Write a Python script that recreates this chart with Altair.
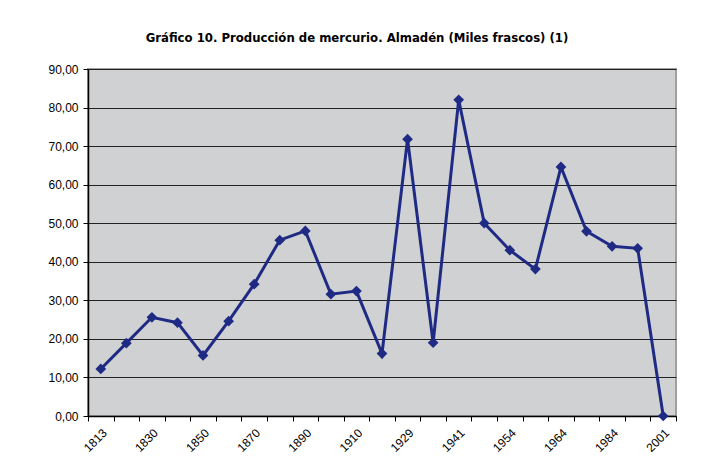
import altair as alt
import pandas as pd

years = ["1813", "1820", "1830", "1840", "1850", "1860", "1870", "1880", "1890",
         "1900", "1910", "1920", "1929", "1935", "1941", "1947", "1954", "1959",
         "1964", "1974", "1984", "1994", "2001"]
shown = ["1813", "1830", "1850", "1870", "1890", "1910", "1929", "1941",
         "1954", "1964", "1984", "2001"]
values = [12.2, 18.9, 25.6, 24.2, 15.7, 24.6, 34.2, 45.6, 48.0, 31.6, 32.4, 16.2,
          71.8, 19.0, 82.0, 50.0, 43.0, 38.1, 64.6, 47.9, 44.0, 43.5, 0.0]
y_ticks = [0, 10, 20, 30, 40, 50, 60, 70, 80, 90]

df = pd.DataFrame({"year": years, "value": values})

shown_arr = "[" + ",".join("'%s'" % s for s in shown) + "]"

x_enc = alt.X(
    "year:O", sort=years, bandPosition=0.5, title=None,
    scale=alt.Scale(type="band", paddingInner=0, paddingOuter=0),
    axis=alt.Axis(
        labelExpr="indexof(" + shown_arr + ", datum.value) >= 0 ? datum.value : ''",
        labelAngle=-45, tickBand="extent", tickSize=5, tickColor="black",
        domainColor="black", domainWidth=1.5, labelFont="Liberation Sans",
        labelFontSize=12, labelColor="black", labelPadding=6, grid=False,
    ),
)
y_enc = alt.Y(
    "value:Q", title=None,
    scale=alt.Scale(domain=[0, 90], nice=False),
    axis=alt.Axis(
        values=y_ticks, labelExpr="replace(format(datum.value, '.2f'), '.', ',')",
        tickSize=5, tickColor="black", domainColor="black", domainWidth=1.5,
        gridColor="#222222", gridWidth=1.2, labelFont="Liberation Sans",
        labelFontSize=12, labelColor="black", labelPadding=5,
    ),
)

base = alt.Chart(df).encode(x=x_enc, y=y_enc)
line = base.mark_line(color="#1F2A84", strokeWidth=3)
pts = base.mark_point(shape="diamond", filled=True, size=115, color="#1F2A84", opacity=1)

chart = (line + pts).properties(
    width=588, height=347,
    title=alt.TitleParams(
        "Gráfico 10. Producción de mercurio. Almadén (Miles frascos) (1)",
        font="DejaVu Sans Condensed, Liberation Sans", fontSize=13, fontWeight="bold",
        color="black", anchor="middle", dx=-25, offset=18,
    ),
    autosize=alt.AutoSizeParams(type="none"),
    padding={"left": 80, "top": 61, "right": 19, "bottom": 44},
    background="white",
).configure_view(
    fill="#D0D1D3", stroke="#A0A0A0", strokeWidth=2,
)

chart.save("out.html", embed_options={"renderer": "svg", "actions": False})
